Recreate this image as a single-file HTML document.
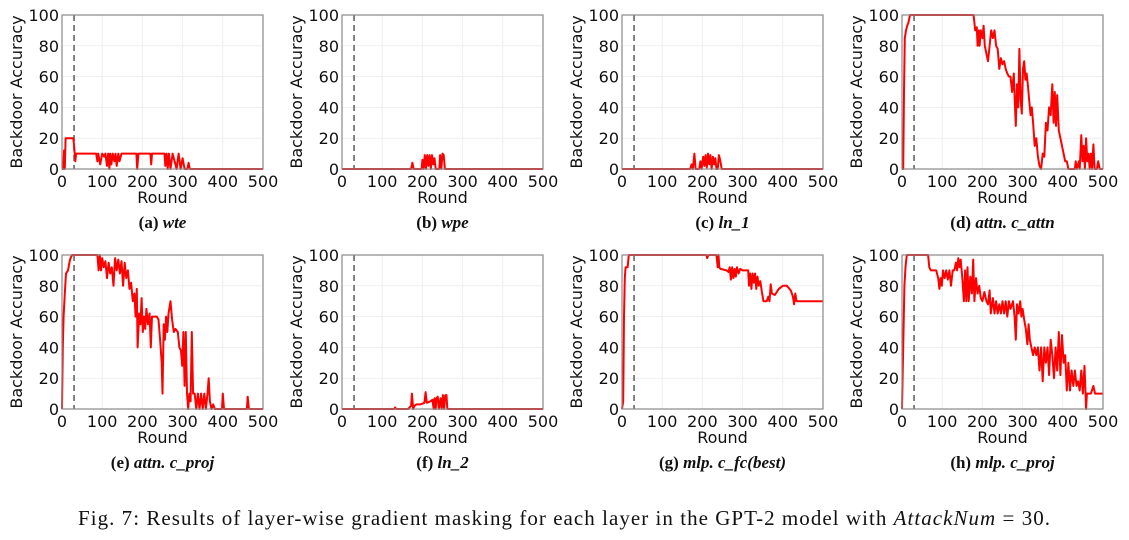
<!DOCTYPE html>
<html><head><meta charset="utf-8"><style>
body{margin:0;background:#fff;width:1129px;height:540px;overflow:hidden}
svg{display:block}
.tick{font-family:"DejaVu Sans",sans-serif;font-size:16px;fill:#111}
.lab{font-family:"DejaVu Sans",sans-serif;font-size:16px;fill:#111}
.cap{font-family:"Liberation Serif",serif;font-size:17px;font-weight:bold;fill:#111}
.fig{font-family:"Liberation Serif",serif;font-size:21px;fill:#111}
</style></head><body>
<svg id="chart" width="1129" height="540" xmlns="http://www.w3.org/2000/svg">
<text class="fig" x="78" y="525" textLength="972" lengthAdjust="spacing">Fig. 7: Results of layer-wise gradient masking for each layer in the GPT-2 model with <tspan font-style="italic">AttackNum</tspan> = 30.</text>
</svg>
<script>
const xTicks=[0,100,200,300,400,500];
const yTicks=[0,20,40,60,80,100];
const attackLine=30;
const captionsPrefix=["(a) ","(b) ","(c) ","(d) ","(e) ","(f) ","(g) ","(h) "];
const captionsName=["wte","wpe","ln_1","attn. c_attn","attn. c_proj","ln_2","mlp. c_fc(best)","mlp. c_proj"];
const seriesA=[[0,0],[3,0],[5,12],[7,0],[9,20],[28,20],[30,15],[33,5],[35,10],[85,10],[88,5],[90,10],[95,3],[100,10],[105,8],[108,10],[112,2],[115,10],[118,0],[120,10],[123,3],[126,10],[130,5],[133,10],[136,2],[140,10],[143,5],[148,10],[185,10],[187,0],[190,10],[220,10],[222,3],[224,10],[255,10],[257,2],[260,10],[263,0],[266,10],[270,0],[275,10],[280,5],[285,0],[290,10],[295,0],[300,7],[305,0],[312,0],[315,4],[318,0],[500,0]];
const seriesB=[[0,0],[172,0],[175,4],[178,0],[198,0],[200,6],[203,0],[206,9],[209,0],[212,9],[215,2],[218,9],[221,0],[224,9],[227,3],[230,7],[233,0],[242,0],[244,9],[247,0],[250,10],[253,9],[256,0],[500,0]];
const seriesC=[[0,0],[170,0],[173,3],[176,0],[180,10],[183,0],[192,0],[195,5],[198,0],[202,8],[205,2],[208,9],[211,1],[214,10],[217,3],[220,9],[223,0],[226,8],[229,3],[232,7],[235,0],[238,0],[241,9],[244,6],[248,0],[500,0]];
const seriesD=[[0,0],[3,0],[5,50],[7,85],[10,90],[13,93],[16,95],[20,100],[178,100],[182,90],[186,92],[188,80],[191,90],[193,80],[196,90],[200,85],[203,93],[206,80],[210,75],[214,70],[218,80],[222,90],[226,85],[230,90],[234,80],[238,78],[242,65],[246,72],[250,68],[254,70],[258,65],[262,62],[266,60],[270,60],[274,50],[278,62],[281,40],[283,28],[286,55],[289,40],[292,78],[295,45],[298,36],[301,65],[304,70],[307,58],[310,62],[313,55],[316,46],[320,35],[323,40],[326,30],[330,15],[334,20],[338,8],[342,2],[346,0],[350,10],[354,8],[358,30],[362,25],[366,40],[370,35],[374,55],[377,30],[380,50],[383,28],[386,48],[390,25],[394,20],[398,15],[402,10],[406,5],[410,5],[414,0],[430,0],[432,5],[435,0],[440,5],[442,0],[446,22],[449,5],[452,15],[455,0],[458,20],[461,5],[464,10],[467,0],[470,10],[473,0],[476,16],[479,0],[485,0],[488,5],[492,0],[500,0]];
const seriesE=[[0,0],[2,40],[4,60],[7,75],[10,88],[15,90],[20,97],[25,100],[88,100],[91,90],[94,100],[97,90],[100,98],[104,92],[108,96],[112,85],[116,95],[120,88],[124,92],[128,80],[132,98],[136,90],[140,97],[144,88],[148,96],[152,80],[156,95],[160,85],[164,90],[168,78],[172,82],[176,70],[180,75],[183,60],[186,78],[188,40],[192,62],[195,55],[198,72],[201,50],[204,60],[207,52],[210,65],[214,55],[218,62],[221,40],[224,60],[230,60],[236,60],[240,58],[244,45],[248,30],[250,10],[253,55],[256,45],[259,60],[262,50],[265,62],[270,70],[274,58],[278,50],[282,52],[288,50],[292,40],[296,38],[299,28],[302,50],[305,15],[308,50],[311,10],[314,0],[317,10],[320,5],[323,50],[326,10],[330,10],[334,0],[338,10],[342,0],[346,10],[350,0],[354,10],[358,0],[362,10],[365,20],[368,5],[372,0],[376,3],[380,0],[398,0],[400,10],[403,0],[460,0],[462,8],[465,0],[500,0]];
const seriesF=[[0,0],[130,0],[132,1],[135,0],[165,0],[168,1],[172,2],[174,10],[177,0],[180,2],[185,3],[195,3],[205,4],[208,11],[211,4],[220,5],[225,6],[228,0],[230,7],[233,0],[235,7],[238,8],[241,0],[245,7],[248,0],[251,9],[254,0],[257,9],[260,9],[262,0],[500,0]];
const seriesG=[[0,0],[3,5],[5,60],[7,85],[9,92],[14,92],[17,100],[210,100],[212,98],[215,100],[235,100],[238,92],[240,100],[242,92],[245,91],[260,90],[265,89],[268,92],[271,84],[274,92],[277,85],[280,91],[283,86],[286,92],[290,88],[294,91],[300,90],[314,90],[316,80],[319,88],[322,78],[325,88],[328,82],[331,88],[334,78],[337,86],[340,80],[344,83],[348,76],[352,70],[360,70],[364,73],[367,70],[370,81],[373,75],[380,74],[390,78],[400,80],[410,80],[420,77],[425,73],[428,68],[431,75],[434,70],[500,70]];
const seriesH=[[0,0],[3,40],[6,80],[9,93],[12,100],[65,100],[68,92],[72,90],[85,90],[90,85],[93,78],[96,85],[99,80],[102,90],[106,85],[110,90],[114,84],[118,90],[122,80],[126,90],[130,90],[134,95],[137,90],[140,98],[143,92],[146,97],[150,85],[154,70],[157,90],[160,70],[163,92],[166,70],[170,86],[174,75],[177,97],[180,70],[184,85],[188,75],[192,80],[196,72],[200,70],[205,76],[210,70],[214,68],[218,77],[221,62],[226,72],[230,62],[234,70],[238,62],[242,68],[246,62],[250,70],[254,62],[258,70],[262,60],[266,70],[270,65],[276,70],[280,60],[283,45],[286,68],[290,62],[294,70],[297,60],[300,65],[304,58],[308,52],[312,42],[315,55],[318,45],[322,40],[326,35],[330,40],[334,35],[338,40],[342,25],[346,40],[350,18],[354,40],[358,30],[362,40],[366,22],[370,45],[374,35],[378,20],[382,40],[386,25],[390,50],[394,22],[398,48],[402,30],[406,35],[410,12],[414,30],[418,12],[422,25],[426,15],[430,25],[434,15],[438,18],[442,12],[446,25],[450,10],[454,28],[458,0],[460,10],[470,10],[476,15],[480,10],[500,10]];
const allSeries=[seriesA,seriesB,seriesC,seriesD,seriesE,seriesF,seriesG,seriesH];
const NS="http://www.w3.org/2000/svg";
const svg=document.getElementById('chart');
function mk(tag,attrs,parent){const e=document.createElementNS(NS,tag);for(const k in attrs)e.setAttribute(k,attrs[k]);(parent||svg).appendChild(e);return e;}
const lefts=[62,342,622,902], tops=[15,255], W=201, H=154;
allSeries.forEach((s,i)=>{
  const L=lefts[i%4], T=tops[Math.floor(i/4)];
  const xs=v=>L+v/500*W, ys=v=>T+H-v/100*H;
  const g=mk('g',{});
  
  
  xTicks.forEach(t=>{
    const l=mk('line',{x1:xs(t),x2:xs(t),y1:T,y2:T+H,stroke:'#eee','stroke-width':1},g);
    
    
    const tx=mk('text',{x:xs(t),y:T+H+18,'text-anchor':'middle',class:'tick'},g);
    
    
    tx.textContent=t;
  });
  yTicks.forEach(t=>{
    const l=mk('line',{x1:L,x2:L+W,y1:ys(t),y2:ys(t),stroke:'#eee','stroke-width':1},g);
    
    
    const tx=mk('text',{x:L-3,y:ys(t)+6,'text-anchor':'end',class:'tick'},g);
    
    
    tx.textContent=t;
  });
  const dl=mk('line',{x1:xs(attackLine),x2:xs(attackLine),y1:T,y2:T+H,stroke:'#777','stroke-width':1.8,'stroke-dasharray':'6,4'},g);
  
  
  const p=mk('path',{d:s.map((pt,j)=>(j?'L':'M')+xs(pt[0]).toFixed(1)+','+ys(pt[1]).toFixed(1)).join(''),fill:'none',stroke:'#f00','stroke-width':2,'stroke-linejoin':'round'},g);
  
  
  const fr=mk('rect',{x:L,y:T,width:W,height:H,fill:'none',stroke:'#888','stroke-width':1.2},g);
  
  
  const yl=mk('text',{x:0,y:0,'text-anchor':'middle',class:'lab',transform:`translate(${L-40},${T+H/2}) rotate(-90)`},g);
  
  
  yl.textContent='Backdoor Accuracy';
  const xl=mk('text',{x:L+W/2,y:T+H+34,'text-anchor':'middle',class:'lab'},g);
  
  
  xl.textContent='Round';
  const cp=mk('text',{x:L+W/2,y:T+H+59,'text-anchor':'middle',class:'cap'},g);
  
  
  cp.textContent=captionsPrefix[i];
  const it=mk('tspan',{'font-style':'italic'},cp);
  it.textContent=captionsName[i];
});
</script>
</body></html>
